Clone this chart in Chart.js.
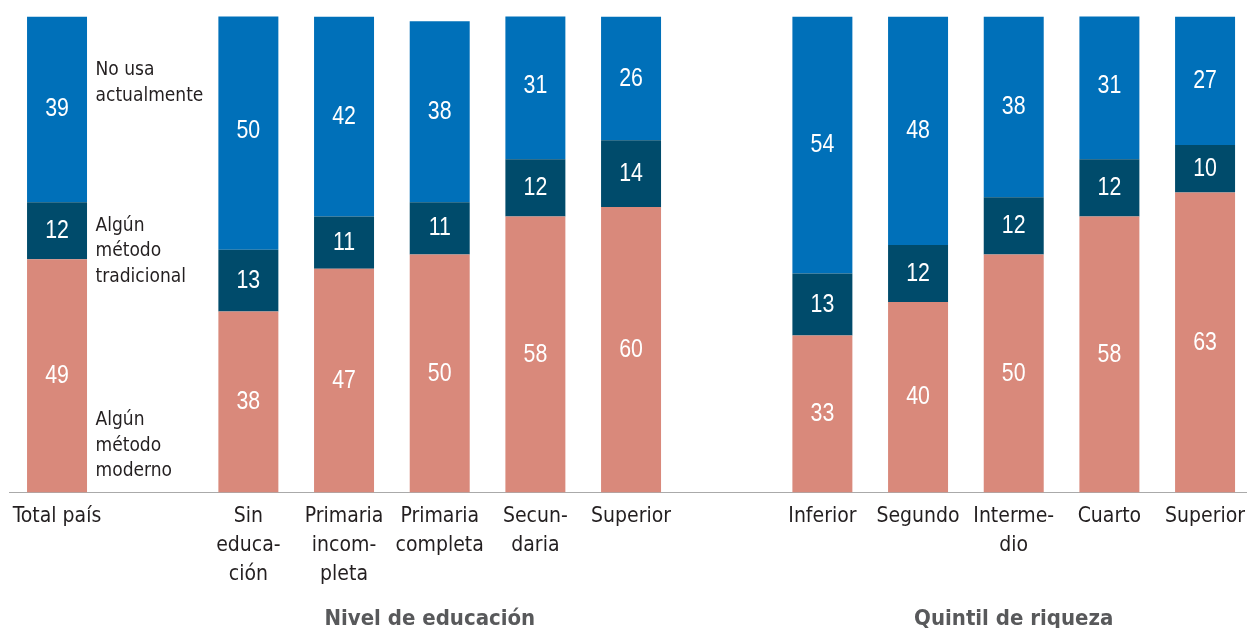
<!DOCTYPE html>
<html lang="es">
<head>
<meta charset="utf-8">
<title>Uso de anticonceptivos</title>
<script src="https://cdn.jsdelivr.net/npm/chart.js@4.4.1/dist/chart.umd.min.js"></script>
<style>
  html, body { margin: 0; padding: 0; background: #fff; overflow: hidden; }
  #wrap { position: absolute; left: 0; top: 0; width: 1260px; height: 628px; }
</style>
</head>
<body>
<div id="wrap"><canvas id="myChart"></canvas></div>
<script>
// categorías (las vacías separan los grupos)
const categories = [
  ["Total país"], [""],
  ["Sin", "educa-", "ción"], ["Primaria", "incom-", "pleta"], ["Primaria", "completa"],
  ["Secun-", "daria"], ["Superior"], [""],
  ["Inferior"], ["Segundo"], ["Interme-", "dio"], ["Cuarto"], ["Superior"],
];
const groups = ["", "", "", "", "Nivel de educación\u2002\u2002", "", "", "", "", "", "Quintil de riqueza", "", ""];

const moderno     = [49, null, 38, 47, 50, 58, 60, null, 33, 40, 50, 58, 63];
const tradicional = [12, null, 13, 11, 11, 12, 14, null, 13, 12, 12, 12, 10];
const noUsa       = [39, null, 50, 42, 38, 31, 26, null, 54, 48, 38, 31, 27];

const legendText = [
  { lines: ["No usa", "actualmente"], top: 58.5 },
  { lines: ["Algún", "método", "tradicional"], top: 214 },
  { lines: ["Algún", "método", "moderno"], top: 408.5 },
];

const condensed = "'DejaVu Sans Condensed', 'DejaVu Sans', sans-serif";
const sans = "'Liberation Sans', Arial, sans-serif";

// valores dentro de cada segmento (texto estrechado horizontalmente)
const segmentLabels = {
  id: "segmentLabels",
  afterDatasetsDraw(chart) {
    const ctx = chart.ctx;
    const squeeze = 0.82;
    ctx.save();
    ctx.fillStyle = "#ffffff";
    ctx.font = "26px " + sans;
    ctx.textAlign = "center";
    ctx.textBaseline = "middle";
    chart.data.datasets.forEach((ds, i) => {
      chart.getDatasetMeta(i).data.forEach((bar, j) => {
        const v = ds.data[j];
        if (v == null) return;
        ctx.save();
        ctx.translate(bar.x, (bar.y + bar.base) / 2);
        ctx.scale(squeeze, 1);
        ctx.fillText(String(v), 0, 0);
        ctx.restore();
      });
    });
    ctx.restore();
  },
};

// leyenda junto a la barra "Total país"
const sideLegend = {
  id: "sideLegend",
  afterDraw(chart) {
    const ctx = chart.ctx;
    const area = chart.chartArea;
    const bar = chart.getDatasetMeta(0).data[0];
    const x = bar.x + bar.width / 2 + 8.5;
    ctx.save();
    ctx.fillStyle = "#231f20";
    ctx.font = "19px " + condensed;
    ctx.textAlign = "left";
    ctx.textBaseline = "alphabetic";
    legendText.forEach(item => {
      item.lines.forEach((t, k) => {
        ctx.fillText(t, x, area.top + item.top + k * 25.7);
      });
    });
    ctx.restore();
  },
};

const ctx = document.getElementById("myChart").getContext("2d");
const myChart = new Chart(ctx, {
  type: "bar",
  data: {
    labels: categories,
    datasets: [
      { label: "Algún método moderno", data: moderno, backgroundColor: "#d9897b" },
      { label: "Algún método tradicional", data: tradicional, backgroundColor: "#004b6b" },
      { label: "No usa actualmente", data: noUsa, backgroundColor: "#0070b9" },
    ],
  },
  options: {
    responsive: true,
    maintainAspectRatio: false,
    animation: false,
    layout: { padding: { left: 9.2, right: 7.1, top: 16.5, bottom: -11.6 } },
    datasets: { bar: { categoryPercentage: 1, barPercentage: 0.627, borderWidth: 0 } },
    plugins: { legend: { display: false }, tooltip: { enabled: false } },
    scales: {
      x: {
        stacked: true,
        grid: { display: false, drawTicks: false },
        border: { display: true, color: "#aaaaaa", width: 1 },
        ticks: {
          autoSkip: false, maxRotation: 0, padding: 9.5,
          color: "#231f20",
          font: { family: condensed, size: 21, lineHeight: 1.38 },
        },
      },
      x2: {
        type: "category",
        position: "bottom",
        labels: groups,
        offset: true,
        grid: { display: false, drawTicks: false },
        border: { display: false },
        ticks: {
          autoSkip: false, maxRotation: 0, padding: 4,
          color: "#58595b",
          font: { family: condensed, size: 22, weight: "bold", lineHeight: 1.509 },
        },
      },
      y: {
        stacked: true,
        display: false,
        min: 0,
        max: 100,
      },
    },
  },
  plugins: [segmentLabels, sideLegend],
});
</script>
</body>
</html>
